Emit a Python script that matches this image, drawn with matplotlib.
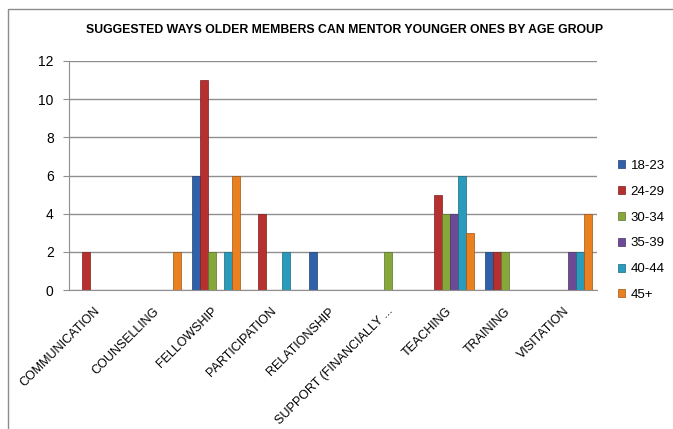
import numpy as np
import matplotlib.pyplot as plt
from matplotlib.patches import Rectangle

categories = ['COMMUNICATION', 'COUNSELLING', 'FELLOWSHIP', 'PARTICIPATION',
              'RELATIONSHIP', 'SUPPORT (FINANCIALLY ...', 'TEACHING', 'TRAINING',
              'VISITATION']
groups = ['18-23', '24-29', '30-34', '35-39', '40-44', '45+']

age_18_23 = [0, 0, 6, 0, 2, 0, 0, 2, 0]
age_24_29 = [2, 0, 11, 4, 0, 0, 5, 2, 0]
age_30_34 = [0, 0, 2, 0, 0, 2, 4, 2, 0]
age_35_39 = [0, 0, 0, 0, 0, 0, 4, 0, 2]
age_40_44 = [0, 0, 2, 2, 0, 0, 6, 0, 2]
age_45_up = [0, 2, 6, 0, 0, 0, 3, 0, 4]

series = [age_18_23, age_24_29, age_30_34, age_35_39, age_40_44, age_45_up]
colors = ['#2f60a8', '#b5302e', '#86a83a', '#6d4a96', '#2a9bbb', '#ea8020']
edges = ['#1f3f70', '#7a1f1e', '#5a7227', '#483163', '#1c6880', '#9e5615']

plt.rcParams['font.family'] = ['Liberation Sans', 'DejaVu Sans']

fig = plt.figure(figsize=(6.73, 4.29), dpi=100)
ax = fig.add_axes([69 / 673, 1 - 290 / 429, 528 / 673, 229 / 429])

x = np.arange(len(categories))
w = 0.136
for i in range(len(series)):
    ax.bar(x + (i - 2.5) * w, series[i], w, color=colors[i], label=groups[i],
           edgecolor=edges[i], linewidth=0.5, zorder=2)

ax.set_xlim(-0.5, len(categories) - 0.5)
ax.set_ylim(0, 12)
ax.set_yticks(range(0, 13, 2))
ax.yaxis.grid(True, color='#8f8f8f', linewidth=1.0, zorder=0)
ax.set_axisbelow(True)
ax.set_xticks(x)
ax.set_xticklabels(categories, rotation=45, ha='right', va='center',
                   rotation_mode='anchor', fontsize=9)
ax.tick_params(axis='x', length=0, pad=14)
ax.tick_params(axis='y', labelsize=10, length=4, color='#8f8f8f', pad=7)
for s in ['top', 'right']:
    ax.spines[s].set_visible(False)
ax.spines['left'].set_color('#8f8f8f')
ax.spines['bottom'].set_color('#8f8f8f')
ax.spines['left'].set_zorder(3)
ax.spines['bottom'].set_zorder(3)

fig.text(345 / 673, 1 - 30 / 429,
         'SUGGESTED WAYS OLDER MEMBERS CAN MENTOR YOUNGER ONES BY AGE GROUP',
         ha='center', va='center', fontsize=8.8, fontweight='bold')

ax.legend(loc='center left', bbox_to_anchor=(1.0, 0.26), frameon=False,
          fontsize=9.5, handlelength=0.55, handleheight=0.55, labelspacing=1.05,
          handletextpad=0.4, borderaxespad=1.2)

fig.patches.append(Rectangle((8 / 673, -0.1), 1.2, 1 - 9 / 429 + 0.1,
                             transform=fig.transFigure, fill=False,
                             edgecolor='#8c8c8c', linewidth=1.0))

fig.savefig('out.png', dpi=100)
